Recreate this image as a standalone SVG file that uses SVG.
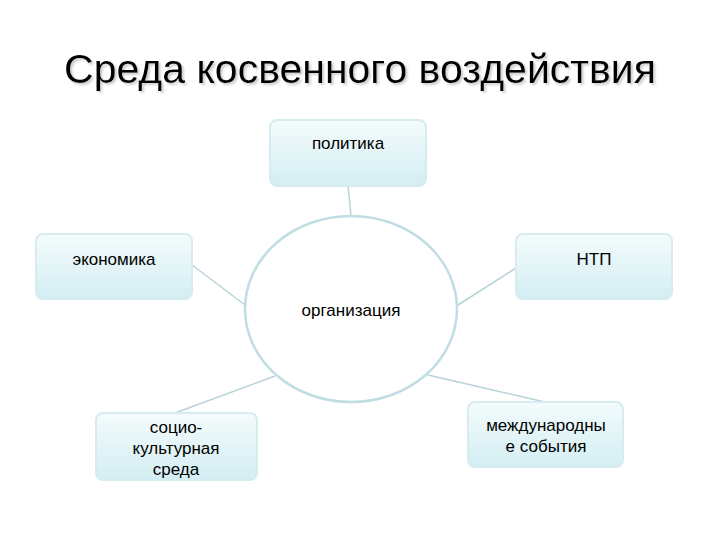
<svg xmlns="http://www.w3.org/2000/svg" width="720" height="540" viewBox="0 0 720 540">
<defs>
<linearGradient id="g" x1="0" y1="0" x2="0" y2="1"><stop offset="0" stop-color="#f4fbfc"/><stop offset="1" stop-color="#d3eef3"/></linearGradient>
<filter id="sh"><feDropShadow dx="2" dy="2" stdDeviation="0.8" flood-color="#aaa" flood-opacity="0.6"/></filter>
<style>
.b{fill:url(#g);stroke:#d6ecf0;stroke-width:2}
.t{font-family:"Liberation Sans",Arial,sans-serif;font-size:17px;fill:#000;text-anchor:middle}
.c line{stroke:#b7d3d8;stroke-width:1.5}
</style>
</defs>
<rect width="720" height="540" fill="#fff"/>
<text x="360" y="83" font-family="Liberation Sans,Arial,sans-serif" font-size="41" text-anchor="middle" fill="#000" filter="url(#sh)">Среда косвенного  воздействия</text>
<g class="c">
<line x1="348" y1="186" x2="351" y2="216"/>
<line x1="516" y1="268" x2="458" y2="305"/>
<line x1="192" y1="265" x2="245" y2="305"/>
<line x1="175" y1="413" x2="275" y2="376"/>
<line x1="545" y1="402" x2="428" y2="375"/>
</g>
<g id="org"><ellipse cx="351" cy="309" rx="106" ry="93" fill="#fff" stroke="#bfdde2" stroke-width="2.5"/><text class="t" x="351" y="316">организация</text></g>
<g id="pol"><rect class="b" x="270" y="120" width="156" height="66" rx="7"/><text class="t" x="348" y="149">политика</text></g>
<g id="ntp"><rect class="b" x="516" y="234" width="156" height="65" rx="7"/><text class="t" x="594" y="265">НТП</text></g>
<g id="eco"><rect class="b" x="36" y="234" width="156" height="65" rx="7"/><text class="t" x="114" y="265">экономика</text></g>
<g id="soc"><rect class="b" x="96" y="413" width="161" height="67" rx="7"/><text class="t" x="176" y="433">социо-</text><text class="t" x="176" y="454">культурная</text><text class="t" x="176" y="475">среда</text></g>
<g id="int"><rect class="b" x="468" y="402" width="155" height="65" rx="7"/><text class="t" x="546" y="431">международны</text><text class="t" x="546" y="452">е события</text></g>
</svg>
